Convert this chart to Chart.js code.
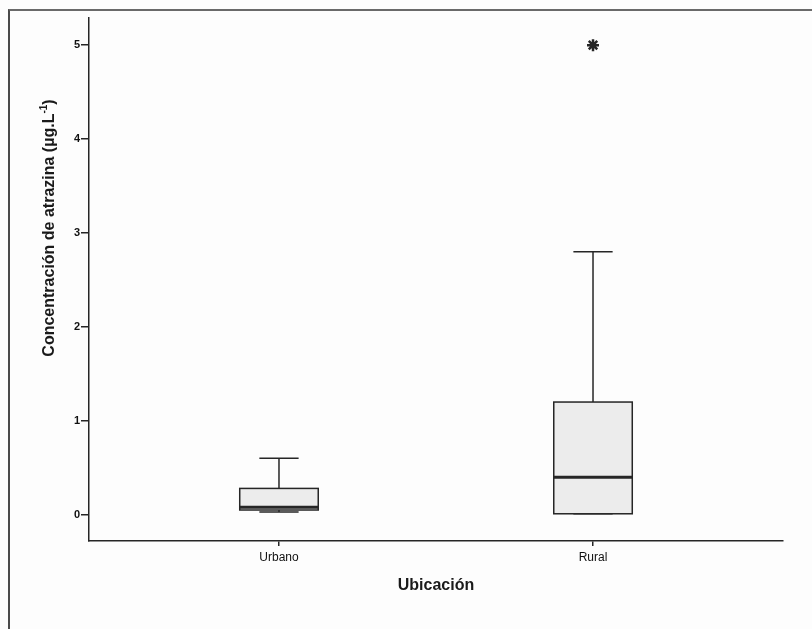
<!DOCTYPE html>
<html>
<head>
<meta charset="utf-8">
<script src="https://cdn.jsdelivr.net/npm/chart.js@4.4.1/dist/chart.umd.min.js"></script>
<style>
  html, body { margin: 0; padding: 0; background: #fdfdfd; }
  #frame {
    position: absolute; left: 8px; top: 9px; width: 804px; height: 620px;
    border-left: 2px solid #4a4a4a; border-top: 2px solid #6a6a6a;
  }
  #boxChart { position: absolute; left: 0; top: 0; }
</style>
</head>
<body>
<div id="frame"></div>
<canvas id="boxChart" width="812" height="629"></canvas>
<script>
// Atrazine concentration by location (box plot summary)
const categories = ["Urbano", "Rural"];
const whiskerLow = [0.03, 0.01];
const q1 = [0.05, 0.01];
const medians = [0.08, 0.40];
const q3 = [0.28, 1.20];
const whiskerHigh = [0.60, 2.80];
const outliers = [[], [5.0]];
const yTicks = [0, 1, 2, 3, 4, 5];

const boxWidth = 0.25;     // in x units
const capWidth = 0.125;
const lineColor = '#262626';
const fontFamily = '"Liberation Sans", Arial, sans-serif';

// Boxes, whiskers and medians drawn through the chart's own scales
const boxPlotPlugin = {
    id: 'boxPlot',
    beforeDatasetsDraw(chart) {
        const { ctx, scales: { x, y } } = chart;
        ctx.save();
        categories.forEach((cat, i) => {
            const cx = x.getPixelForValue(i + 1);
            const left = x.getPixelForValue(i + 1 - boxWidth / 2);
            const right = x.getPixelForValue(i + 1 + boxWidth / 2);
            const capL = x.getPixelForValue(i + 1 - capWidth / 2);
            const capR = x.getPixelForValue(i + 1 + capWidth / 2);
            const yQ1 = y.getPixelForValue(q1[i]);
            const yQ3 = y.getPixelForValue(q3[i]);
            const yMed = y.getPixelForValue(medians[i]);
            const yLo = y.getPixelForValue(whiskerLow[i]);
            const yHi = y.getPixelForValue(whiskerHigh[i]);

            ctx.strokeStyle = lineColor;
            ctx.lineWidth = 1.5;

            // whiskers
            ctx.beginPath();
            ctx.moveTo(cx, yQ3); ctx.lineTo(cx, yHi);
            ctx.moveTo(capL, yHi); ctx.lineTo(capR, yHi);
            ctx.moveTo(cx, yQ1); ctx.lineTo(cx, yLo);
            ctx.moveTo(capL, yLo); ctx.lineTo(capR, yLo);
            ctx.stroke();

            // box
            ctx.fillStyle = '#ececec';
            ctx.fillRect(left, yQ3, right - left, yQ1 - yQ3);
            ctx.strokeRect(left, yQ3, right - left, yQ1 - yQ3);

            // median
            ctx.lineWidth = 3;
            ctx.beginPath();
            ctx.moveTo(left, yMed); ctx.lineTo(right, yMed);
            ctx.stroke();
        });
        ctx.restore();
    }
};

// Rotated y-axis title with superscript
const yTitlePlugin = {
    id: 'yTitle',
    afterDraw(chart) {
        const ctx = chart.ctx;
        const main = 'Concentración de atrazina (µg.L';
        const sup = '-1';
        const tail = ')';
        const big = 'bold 16px ' + fontFamily;
        const small = 'bold 10px ' + fontFamily;
        ctx.save();
        ctx.translate(50, 228);
        ctx.rotate(-Math.PI / 2);
        ctx.fillStyle = '#1a1a1a';
        ctx.textBaseline = 'middle';
        ctx.font = big;
        const wMain = ctx.measureText(main).width;
        const wTail = ctx.measureText(tail).width;
        ctx.font = small;
        const wSup = ctx.measureText(sup).width;
        let xPos = -(wMain + wSup + wTail) / 2;
        ctx.font = big;
        ctx.fillText(main, xPos, 0);
        xPos += wMain;
        ctx.font = small;
        ctx.fillText(sup, xPos, -6);
        xPos += wSup;
        ctx.font = big;
        ctx.fillText(tail, xPos, 0);
        ctx.restore();
    }
};

document.addEventListener("DOMContentLoaded", function() {
    const ctx = document.getElementById('boxChart').getContext('2d');
    new Chart(ctx, {
        type: 'scatter',
        data: {
            datasets: [{
                label: 'Atípicos',
                data: outliers.flatMap((vals, i) => vals.map(v => ({ x: i + 1, y: v }))),
                pointStyle: 'star',
                radius: 6,
                borderColor: lineColor,
                borderWidth: 2.5,
                backgroundColor: lineColor
            }]
        },
        options: {
            responsive: false,
            animation: false,
            layout: { padding: { left: 0, right: 29, top: 18, bottom: 0 } },
            plugins: {
                legend: { display: false },
                tooltip: { enabled: false }
            },
            scales: {
                x: {
                    type: 'linear',
                    min: 0.395,
                    max: 2.605,
                    afterBuildTicks: scale => { scale.ticks = categories.map((c, i) => ({ value: i + 1 })); },
                    afterFit: scale => { scale.height = 88; },
                    ticks: {
                        callback: v => categories[v - 1],
                        color: '#111',
                        font: { family: fontFamily, size: 12 },
                        padding: 4,
                        maxRotation: 0
                    },
                    grid: { drawOnChartArea: false, tickLength: 5, color: lineColor, lineWidth: 1.5 },
                    border: { display: true, color: lineColor, width: 1.5 },
                    title: {
                        display: true,
                        text: 'Ubicación',
                        color: '#1a1a1a',
                        font: { family: fontFamily, size: 16, weight: 'bold' },
                        padding: { top: 0, bottom: 34 }
                    }
                },
                y: {
                    min: -0.28,
                    max: 5.29,
                    afterBuildTicks: scale => { scale.ticks = yTicks.map(v => ({ value: v })); },
                    afterFit: scale => { scale.width = 89; },
                    ticks: {
                        color: '#111',
                        font: { family: fontFamily, size: 11, weight: 'bold' },
                        padding: 1
                    },
                    grid: { drawOnChartArea: false, tickLength: 8, color: lineColor, lineWidth: 1.5 },
                    border: { display: true, color: lineColor, width: 1.5 }
                }
            }
        },
        plugins: [boxPlotPlugin, yTitlePlugin]
    });
});
</script>
</body>
</html>
